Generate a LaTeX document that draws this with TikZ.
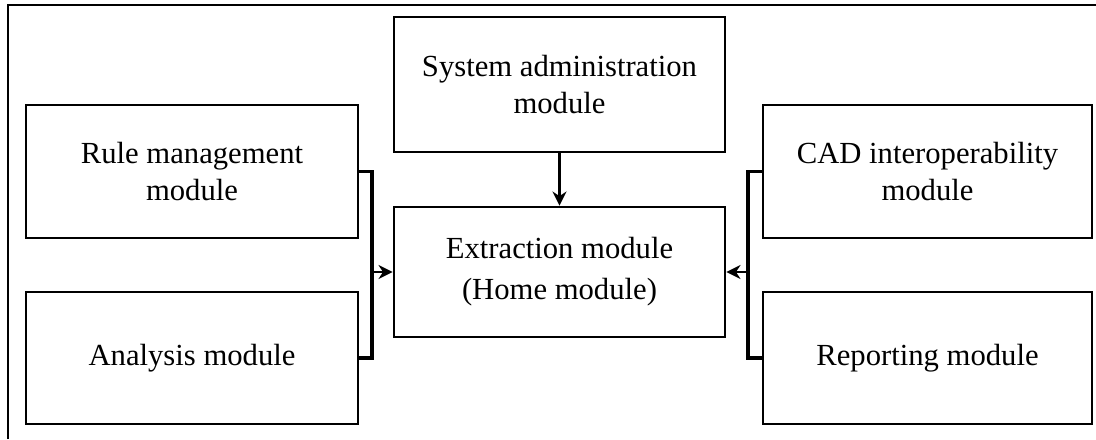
\documentclass[tikz,border=0pt]{standalone}
\usepackage{fontspec}
\setmainfont{Liberation Serif}
\usepackage{tikz}
\usetikzlibrary{arrows.meta}

\tikzset{
  modbox/.style={draw,line width=1pt,align=center,inner sep=0pt,
                 font=\fontsize{10.9}{13.2}\selectfont},
  busline/.style={line width=1.2pt},
}

\begin{document}
\begin{tikzpicture}[x=0.0125cm,y=-0.0125cm,>={Stealth[length=5pt,width=5pt]}]
  \useasboundingbox (0,0) rectangle (1096,439);
  % outer frame
  \draw[line width=0.45pt] (8,439) -- (8,5) -- (1096,5);
  % modules
  \node[modbox,minimum width=4.15cm,minimum height=1.6625cm] (rule) at (192,171.5)
    {Rule management\\module};
  \node[modbox,minimum width=4.15cm,minimum height=1.65cm] (analysis) at (192,358)
    {Analysis module};
  \node[modbox,minimum width=4.1375cm,minimum height=1.6875cm] (sysadm) at (559.5,84.5)
    {System administration\\module};
  \node[modbox,minimum width=4.1375cm,minimum height=1.625cm,
        font=\fontsize{10.9}{14.5}\selectfont] (extract) at (559.5,272)
    {Extraction module\\(Home module)};
  \node[modbox,minimum width=4.1125cm,minimum height=1.6625cm] (cad) at (927.5,171.5)
    {CAD interoperability\\module};
  \node[modbox,minimum width=4.1125cm,minimum height=1.65cm] (report) at (927.5,358)
    {Reporting module};
  % connectors
  \coordinate (lbus) at (372,272);
  \coordinate (rbus) at (748,272);
  \draw[busline] (rule.east) -| (lbus) |- (analysis.east);
  \draw[busline] (cad.west) -| (rbus) |- (report.west);
  \draw[->,line width=0.8pt] (lbus) -- (extract.west);
  \draw[->,line width=0.8pt] (rbus) -- (extract.east);
  \draw[->,line width=0.8pt] (sysadm.south) -- (extract.north);
\end{tikzpicture}
\end{document}
